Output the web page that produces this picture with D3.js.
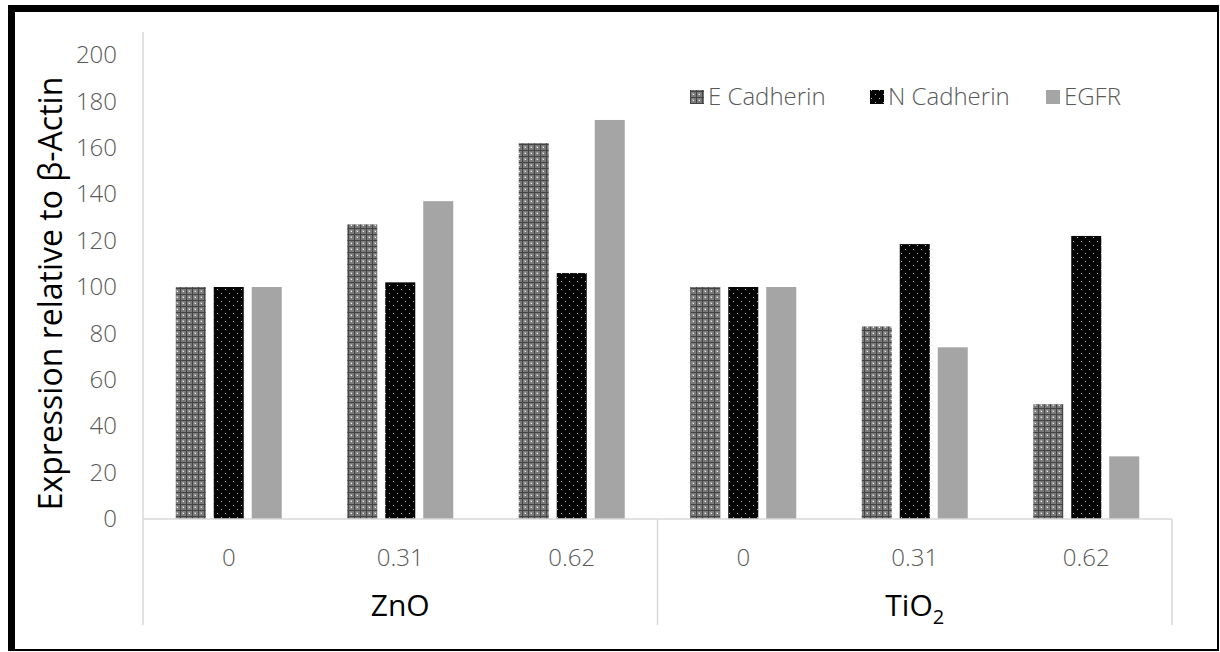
<!DOCTYPE html>
<html>
<head>
<meta charset="utf-8">
<script src="https://cdn.jsdelivr.net/npm/d3@7"></script>
<style>
  body { margin: 0; background: #fff; }
  svg { display: block; font-family: "Open Sans", "Noto Sans", sans-serif; }
</style>
</head>
<body>
<svg id="chart"></svg>
<script>
// data
var groups = ['ZnO', 'TiO2'];
var doses = ['0', '0.31', '0.62'];
var seriesNames = ['E Cadherin', 'N Cadherin', 'EGFR'];
var eCadherin = [100, 127, 162, 100, 83, 49.5];
var nCadherin = [100, 102, 106, 100, 118.5, 122];
var egfr = [100, 137, 172, 100, 74, 27];
var yTicks = [0, 20, 40, 60, 80, 100, 120, 140, 160, 180, 200];

var width = 1220, height = 652;
var plotLeft = 143, plotRight = 1172, plotTop = 55, plotBottom = 519;

var svg = d3.select('#chart').attr('width', width).attr('height', height);

// patterns for the bars
var defs = svg.append('defs');
var pE = defs.append('pattern').attr('id', 'patE').attr('patternUnits', 'userSpaceOnUse')
    .attr('width', 6).attr('height', 6);
pE.append('rect').attr('width', 6).attr('height', 6).attr('fill', '#7a7a7a');
pE.append('rect').attr('x', 0).attr('y', 0).attr('width', 1).attr('height', 6).attr('fill', '#444');
pE.append('rect').attr('x', 0).attr('y', 0).attr('width', 6).attr('height', 1).attr('fill', '#444');
pE.append('rect').attr('x', 2).attr('y', 2).attr('width', 2).attr('height', 2).attr('fill', '#9a9a9a');
pE.append('rect').attr('x', 3).attr('y', 3).attr('width', 1).attr('height', 1).attr('fill', '#f0f0f0');

var pN = defs.append('pattern').attr('id', 'patN').attr('patternUnits', 'userSpaceOnUse')
    .attr('width', 8).attr('height', 8);
pN.append('rect').attr('width', 8).attr('height', 8).attr('fill', '#050505');
pN.append('rect').attr('x', 1).attr('y', 1).attr('width', 1).attr('height', 1).attr('fill', '#bbb');
pN.append('rect').attr('x', 5).attr('y', 5).attr('width', 1).attr('height', 1).attr('fill', '#bbb');

var fills = ['url(#patE)', 'url(#patN)', '#a5a5a5'];
var values = [eCadherin, nCadherin, egfr];

// frame around the figure
svg.append('rect').attr('x', 8).attr('y', 5).attr('width', 1211).attr('height', 7).attr('fill', '#000');
svg.append('rect').attr('x', 8).attr('y', 5).attr('width', 7).attr('height', 646).attr('fill', '#000');
svg.append('rect').attr('x', 1217).attr('y', 5).attr('width', 2).attr('height', 646).attr('fill', '#000');
svg.append('rect').attr('x', 8).attr('y', 649).attr('width', 1211).attr('height', 2).attr('fill', '#000');

// scales
var cats = [];
groups.forEach(function(g) { doses.forEach(function(d) { cats.push(g + '|' + d); }); });

var x0 = d3.scaleBand().domain(cats).range([plotLeft, plotRight]).padding(0);
var outer = 32.75;
var x1 = d3.scaleBand().domain(seriesNames)
    .range([outer, x0.bandwidth() - outer]).paddingInner(0.21).paddingOuter(0);
var y = d3.scaleLinear().domain([0, 200]).range([plotBottom, plotTop]);

// y axis
var yAxis = d3.axisLeft(y).tickValues(yTicks).tickSize(0).tickPadding(26);
var ya = svg.append('g').attr('transform', 'translate(' + plotLeft + ',0)').call(yAxis);
ya.select('.domain').remove();
ya.selectAll('text').attr('font-size', 24).attr('fill', '#595959')
    .attr('font-family', '"Open Sans", sans-serif').style('font-weight', 300);
svg.append('line').attr('x1', plotLeft).attr('x2', plotLeft).attr('y1', 32).attr('y2', plotBottom)
    .attr('stroke', '#d9d9d9').attr('stroke-width', 1.5);

svg.append('text')
    .attr('transform', 'translate(62,' + ((75 + 512) / 2) + ') rotate(-90)')
    .attr('text-anchor', 'middle')
    .attr('font-size', 32)
    .attr('fill', '#000')
    .text('Expression relative to β-Actin');

// bars
var barData = [];
cats.forEach(function(c, i) {
    seriesNames.forEach(function(s, j) {
        barData.push({ cat: c, series: s, value: values[j][i], fill: fills[j] });
    });
});

svg.append('g').selectAll('rect')
    .data(barData)
    .enter()
    .append('rect')
    .attr('x', d => x0(d.cat) + x1(d.series))
    .attr('y', d => y(d.value))
    .attr('width', x1.bandwidth())
    .attr('height', d => plotBottom - y(d.value))
    .attr('fill', d => d.fill);

// category axis (two levels)
var axisColor = '#d9d9d9';
svg.append('line').attr('x1', plotLeft).attr('x2', plotRight).attr('y1', plotBottom).attr('y2', plotBottom)
    .attr('stroke', axisColor).attr('stroke-width', 1.5);
var groupEdges = [plotLeft, x0(groups[1] + '|' + doses[0]), plotRight];
svg.selectAll('.sep').data(groupEdges).enter().append('line')
    .attr('class', 'sep')
    .attr('x1', d => d).attr('x2', d => d)
    .attr('y1', plotBottom).attr('y2', 625)
    .attr('stroke', axisColor).attr('stroke-width', 1.5);

svg.selectAll('.dose').data(cats).enter().append('text')
    .attr('class', 'dose')
    .attr('x', d => x0(d) + x0.bandwidth() / 2)
    .attr('y', 566)
    .attr('text-anchor', 'middle')
    .attr('font-size', 24)
    .style('font-weight', 300)
    .attr('fill', '#595959')
    .text(d => d.split('|')[1]);

var groupLabels = svg.selectAll('.grp').data(groups).enter().append('text')
    .attr('class', 'grp')
    .attr('x', (d, i) => (groupEdges[i] + groupEdges[i + 1]) / 2)
    .attr('y', 616)
    .attr('text-anchor', 'middle')
    .attr('font-size', 30)
    .attr('fill', '#000');
groupLabels.each(function(d) {
    var t = d3.select(this);
    if (d === 'TiO2') {
        t.append('tspan').text('TiO');
        t.append('tspan').attr('font-size', 20).attr('dy', 8).text('2');
    } else {
        t.text(d);
    }
});

// legend
var legendX = [690, 870, 1046];
var legend = svg.selectAll('.legend-item').data(seriesNames).enter().append('g')
    .attr('class', 'legend-item')
    .attr('transform', (d, i) => 'translate(' + legendX[i] + ',97)');
legend.append('rect')
    .attr('x', 0).attr('y', -7).attr('width', 14).attr('height', 14)
    .attr('fill', (d, i) => fills[i]);
legend.append('text')
    .attr('x', 18).attr('y', 8)
    .attr('font-size', 24)
    .style('font-weight', 300)
    .attr('fill', '#595959')
    .text(d => d);
</script>
</body>
</html>
